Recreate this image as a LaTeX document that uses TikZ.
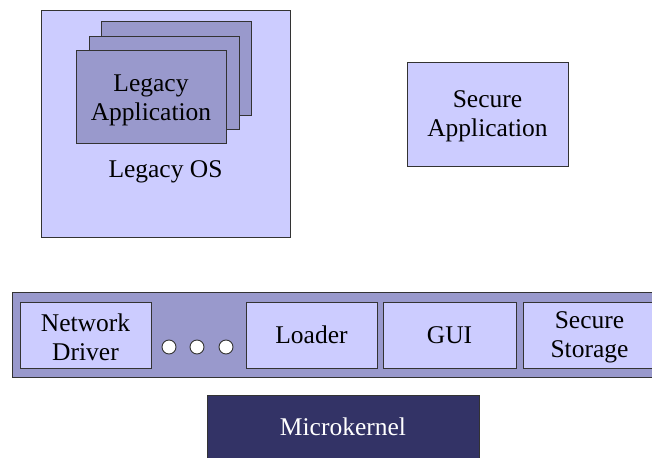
\documentclass[tikz,border=0pt]{standalone}
\usepackage{fontspec}
\setmainfont{Liberation Serif}
\definecolor{lilac}{HTML}{CCCCFF}
\definecolor{violetgrey}{HTML}{9999CC}
\definecolor{navy}{HTML}{333366}
\definecolor{edge}{HTML}{333333}
\begin{document}
\begin{tikzpicture}[x=1pt,y=-1pt,
  txt/.style={font=\fontsize{25.5}{29}\selectfont, align=center, inner sep=0pt},
  lightbox/.style={draw=edge, line width=0.9pt, fill=lilac},
  appbox/.style={draw=edge, line width=0.9pt, fill=violetgrey},
  dot/.style={circle, draw=edge, line width=0.9pt, fill=white, minimum size=14pt, inner sep=0pt}]
\useasboundingbox (0,0) rectangle (652,457);
\clip (0,0) rectangle (652,457);

% legacy operating system with its stacked applications
\draw[lightbox] (41,10) rectangle (290,237);
\draw[appbox] (101,21) rectangle (251,115);
\draw[appbox] (89,36) rectangle (239,129);
\draw[appbox] (76,50) rectangle (226,143);
\node[txt] (legapp) at (151,100) {Legacy\\Application};
\node[txt, anchor=base] (legos) at (165.5,177) {Legacy OS};

% secure application
\draw[lightbox] (407,62) rectangle (568,166);
\node[txt] (secapp) at (487.5,116.5) {Secure\\Application};

% user-level services bar
\draw[appbox] (12,292) rectangle (670,377);
\draw[lightbox] (20,302) rectangle (151,368);
\node[txt] (netdrv) at (85.5,337.5) {Network\\Driver};
\node[dot] (d1) at (169,347) {};
\node[dot] (d2) at (197,347) {};
\node[dot] (d3) at (226,347) {};
\draw[lightbox] (246,302) rectangle (377,368);
\node[txt] (loader) at (311.5,335) {Loader};
\draw[lightbox] (383,302) rectangle (516,368);
\node[txt] (gui) at (449.5,335) {GUI};
\draw[lightbox] (523,302) rectangle (656,368);
\node[txt] (store) at (589.5,337.5) {Secure\\Storage};

% kernel
\draw[draw=edge, line width=0.9pt, fill=navy] (207,395) rectangle (479,470);
\node[txt, text=white] (kernel) at (343,427) {Microkernel};
\end{tikzpicture}
\end{document}
